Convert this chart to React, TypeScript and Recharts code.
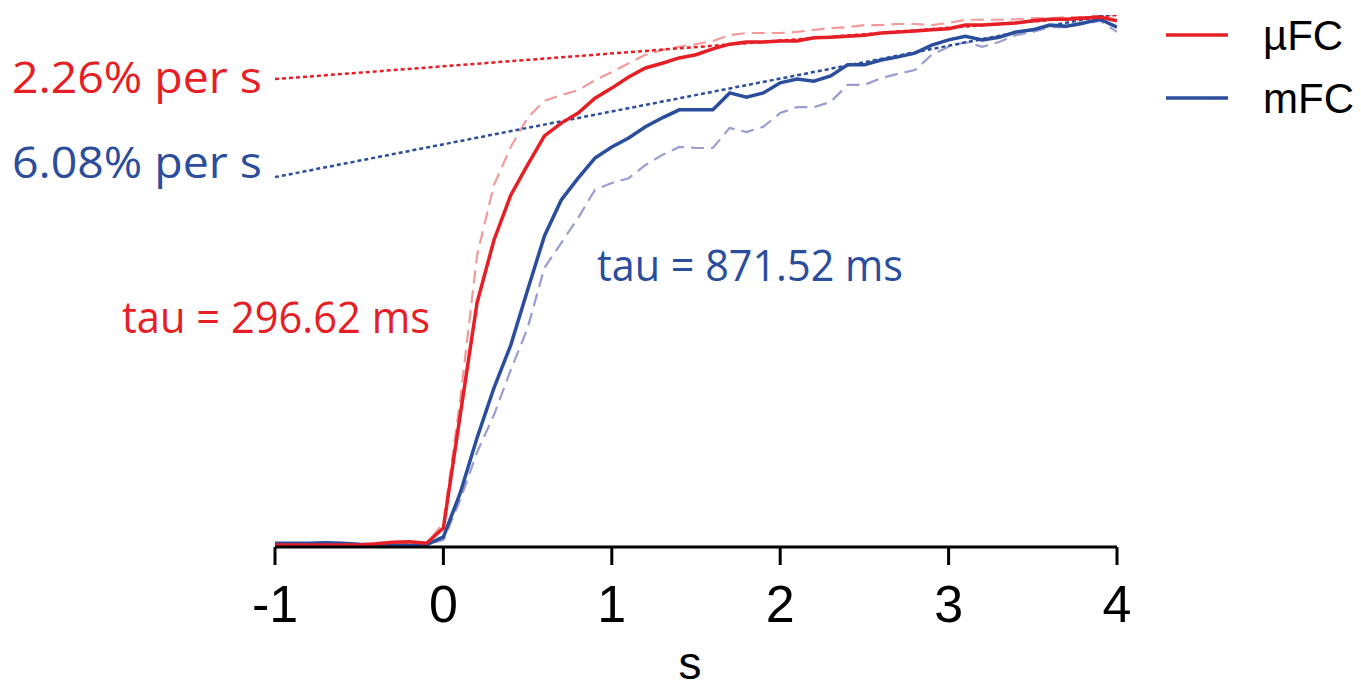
import React from 'react';
import { LineChart, Line, XAxis, YAxis, Legend } from 'recharts';

const time = [-1, -0.9, -0.8, -0.7, -0.6, -0.5, -0.4, -0.3, -0.2, -0.1, 0, 0.1, 0.2, 0.3, 0.4, 0.5, 0.6, 0.7, 0.8, 0.9, 1, 1.1, 1.2, 1.3, 1.4, 1.5, 1.6, 1.7, 1.8, 1.9, 2, 2.1, 2.2, 2.3, 2.4, 2.5, 2.6, 2.7, 2.8, 2.9, 3, 3.1, 3.2, 3.3, 3.4, 3.5, 3.6, 3.7, 3.8, 3.9, 4];

const muFC = [0, 0, 0, 0, 0, 0, 0.2, 0.5, 0.6, 0.3, 3.2, 24.5, 45.7, 57.5, 66.0, 71.7, 77.2, 79.6, 81.5, 84.3, 86.2, 88.3, 90.0, 90.9, 91.9, 92.5, 93.6, 94.5, 94.9, 94.9, 95.1, 95.1, 95.7, 95.8, 96.0, 96.2, 96.6, 96.8, 97.0, 97.2, 97.4, 98.1, 98.1, 98.3, 98.5, 98.9, 99.2, 99.2, 99.4, 99.6, 98.9];
const muFCDashed = [0.1, 0, 0.1, 0.1, 0, 0.1, 0.2, 0.3, 0.4, 0.2, 4.2, 27.4, 54.7, 67.9, 75.1, 80.6, 83.8, 84.9, 85.8, 87.7, 89.2, 90.9, 92.5, 93.4, 94.0, 94.5, 95.1, 96.2, 96.6, 96.6, 96.6, 96.8, 97.2, 97.5, 97.7, 98.1, 98.1, 98.3, 98.3, 98.1, 98.5, 99.1, 99.1, 99.1, 99.2, 99.4, 99.4, 99.6, 99.6, 99.8, 100.0];
const mFC = [0.3, 0.3, 0.3, 0.4, 0.3, 0.1, 0, -0.1, -0.1, 0, 1.5, 9.8, 20.2, 29.6, 37.7, 48.1, 58.3, 65.1, 69.2, 73.0, 75.1, 76.8, 78.9, 80.6, 82.1, 82.1, 82.1, 85.3, 84.5, 85.3, 87.2, 87.9, 87.5, 88.5, 90.6, 90.6, 91.5, 92.1, 92.8, 94.3, 95.3, 96.0, 95.3, 95.8, 96.8, 97.2, 98.1, 97.9, 98.5, 99.2, 97.7];
const mFCDashed = [0, 0, 0.1, 0, 0, -0.1, 0, 0, 0, 0.1, 0.9, 8.5, 17.5, 24.5, 33.0, 40.9, 52.3, 57.0, 61.7, 67.0, 68.3, 69.2, 71.7, 73.6, 75.1, 74.9, 74.9, 78.7, 77.9, 78.9, 81.5, 82.6, 82.6, 83.6, 86.8, 86.8, 88.1, 88.9, 89.6, 92.5, 94.0, 94.9, 94.0, 94.9, 96.2, 96.8, 97.7, 97.7, 98.3, 98.9, 96.8];

const fitTime = [-1, 4];
const muFCFit = [87.9, 100.0];
const mFCFit = [69.4, 100.4];

const xTicks = [-1, 0, 1, 2, 3, 4];
const legendNames = ['µFC', 'mFC'];

const RED = '#e61e25';
const BLUE = '#2a4d9c';
const RED_LIGHT = '#f29a9c';
const BLUE_LIGHT = '#9a9dd2';

const data = time.map((t, i) => ({
  t,
  red: muFC[i],
  redD: muFCDashed[i],
  blue: mFC[i],
  blueD: mFCDashed[i],
}));
const redFitData = fitTime.map((t, i) => ({ t, v: muFCFit[i] }));
const blueFitData = fitTime.map((t, i) => ({ t, v: mFCFit[i] }));

const legendColors: Record<string, string> = { 'µFC': RED, 'mFC': BLUE };

const LegendContent = () => (
  <svg width={211} height={130}>
    {legendNames.map((name, i) => (
      <g key={name}>
        <line x1={16} x2={78} y1={35 + 63 * i} y2={35 + 63 * i} stroke={legendColors[name]} strokeWidth={3.5} />
        <text
          x={113}
          y={35 + 63 * i}
          dy="0.36em"
          fontSize={42}
          fontFamily="'Liberation Sans', Arial, sans-serif"
          fill="#000"
        >
          {name}
        </text>
      </g>
    ))}
  </svg>
);

const annFont = "'Open Sans', 'Noto Sans', sans-serif";

export default function App() {
  return (
    <div style={{ position: 'absolute', left: 0, top: 0, width: 1361, height: 689, background: '#fff' }}>
      <LineChart
        width={1361}
        height={689}
        data={data}
        margin={{ top: 15, right: 244, bottom: 0, left: 275 }}
      >
        <XAxis
          type="number"
          dataKey="t"
          domain={[-1, 4]}
          ticks={xTicks}
          allowDataOverflow
          height={142}
          axisLine={{ stroke: '#000', strokeWidth: 3 }}
          tickLine={{ stroke: '#000', strokeWidth: 3 }}
          tickSize={18}
          tickMargin={20}
          tick={{ fill: '#000', fontSize: 52, fontFamily: "'Liberation Sans', Arial, sans-serif" }}
          label={{ value: 's', position: 'insideBottom', offset: 10, dx: -6, fontSize: 46, fill: '#000', fontFamily: "'Liberation Sans', Arial, sans-serif" }}
        />
        <YAxis hide domain={[-0.4, 100]} allowDataOverflow />
        <Legend
          layout="vertical"
          align="center"
          verticalAlign="middle"
          content={<LegendContent />}
          wrapperStyle={{ position: 'absolute', left: 1150, top: 0, width: 211, height: 130 }}
        />
        <Line dataKey="redD" type="linear" stroke={RED_LIGHT} strokeWidth={2.2} strokeDasharray="13 7" dot={false} isAnimationActive={false} legendType="none" />
        <Line dataKey="blueD" type="linear" stroke={BLUE_LIGHT} strokeWidth={2.2} strokeDasharray="13 7" dot={false} isAnimationActive={false} legendType="none" />
        <Line data={redFitData} dataKey="v" type="linear" stroke={RED} strokeWidth={2.5} strokeDasharray="4 3" dot={false} isAnimationActive={false} legendType="none" />
        <Line data={blueFitData} dataKey="v" type="linear" stroke={BLUE} strokeWidth={2.5} strokeDasharray="4 3" dot={false} isAnimationActive={false} legendType="none" />
        <Line dataKey="blue" name="mFC" type="linear" stroke={BLUE} strokeWidth={3.5} dot={false} isAnimationActive={false} />
        <Line dataKey="red" name="µFC" type="linear" stroke={RED} strokeWidth={3.5} dot={false} isAnimationActive={false} />
      </LineChart>
      <svg
        width={1361}
        height={689}
        style={{ position: 'absolute', left: 0, top: 0, pointerEvents: 'none' }}
      >
        <text x={262} y={93} textAnchor="end" fontSize={44} fontFamily={annFont} fill={RED} textLength={250} lengthAdjust="spacingAndGlyphs">2.26% per s</text>
        <text x={262} y={178} textAnchor="end" fontSize={44} fontFamily={annFont} fill={BLUE} textLength={250} lengthAdjust="spacingAndGlyphs">6.08% per s</text>
        <text x={122} y={333} fontSize={44} fontFamily={annFont} fill={RED} textLength={308} lengthAdjust="spacingAndGlyphs">tau = 296.62 ms</text>
        <text x={597} y={281} fontSize={44} fontFamily={annFont} fill={BLUE} textLength={306} lengthAdjust="spacingAndGlyphs">tau = 871.52 ms</text>
      </svg>
    </div>
  );
}
